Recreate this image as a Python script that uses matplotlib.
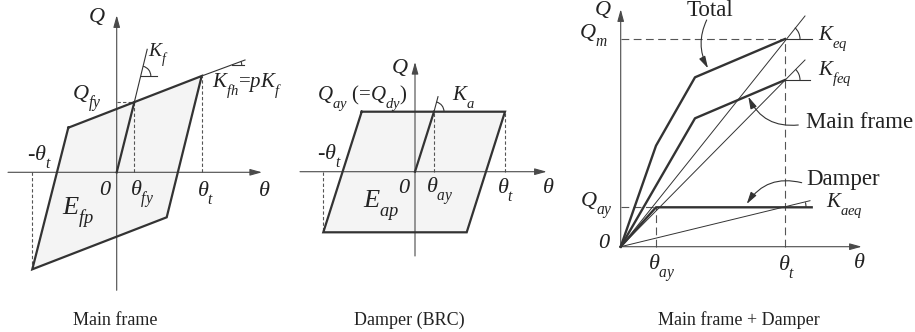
import numpy as np
import matplotlib
matplotlib.use("Agg")
import matplotlib.pyplot as plt
import matplotlib._mathtext as mathtext_impl
from matplotlib.patches import Polygon, Arc, FancyArrowPatch

plt.rcParams['font.family'] = 'Liberation Serif'
plt.rcParams['mathtext.fontset'] = 'custom'
plt.rcParams['mathtext.it'] = 'Liberation Serif:italic'
plt.rcParams['mathtext.rm'] = 'Liberation Serif'
# drop subscripts lower, as in Times-style engineering notation
mathtext_impl.FontConstantsBase.sub1 = 0.8

# ---- main frame hysteresis (theta -> right, Q -> up) ----
mf_loop_theta = [-48.4, 85.0, 50.0, -84.4]
mf_loop_Q = [44.6, 96.3, -45.0, -97.0]
mf_yield = (17.6, 70.0)          # theta_fy, Q_fy
mf_Kf_end = (30.5, 123.0)
mf_Kfh_end = (128.3, 112.3)

# ---- damper (BRC) hysteresis ----
br_loop_theta = [-53.3, 90.0, 51.7, -91.7]
br_loop_Q = [60.0, 60.0, -60.6, -60.6]
br_yield = (19.0, 60.0)          # theta_ay, Q_ay
br_Ka_end = (23.0, 75.0)

# ---- skeleton curves, main frame + damper ----
tot_theta = [0, 35.3, 74.3, 164.3]
tot_Q = [0, 101.0, 169.4, 207.7]
frm_theta = [0, 74.3, 164.3]
frm_Q = [0, 128.4, 166.7]
dmp_theta = [0, 35.3, 191.0]
dmp_Q = [0, 39.4, 39.4]
Keq_end = (184.3, 230.7)
Kfeq_end = (184.3, 186.7)
Kaeq_end = (189.3, 46.0)

captions = ["Main frame", "Damper (BRC)", "Main frame + Damper"]

W, H = 915, 332
fig = plt.figure(figsize=(W / 100, H / 100), dpi=100)

LINE = '#333333'
AXC = '#4a4a4a'
FILL = '#f4f4f4'


def panel(ox, oy):
    ax = fig.add_axes([0, 0, 1, 1])
    ax.set_xlim(-ox, W - ox)
    ax.set_ylim(oy - H, oy)
    ax.axis('off')
    return ax


def arrow_axis(ax, p0, p1):
    ax.add_patch(FancyArrowPatch(p0, p1, arrowstyle='-|>,head_length=0.9,head_width=0.25',
                                 mutation_scale=8, lw=0.8, color=AXC,
                                 shrinkA=0, shrinkB=0, zorder=3))


def angle_mark(ax, c, end, r, hlen):
    ang = np.degrees(np.arctan2(end[1] - c[1], end[0] - c[0]))
    ax.plot([c[0], c[0] + hlen], [c[1], c[1]], color=LINE, lw=0.8, zorder=4)
    ax.add_patch(Arc(c, 2 * r, 2 * r, theta1=0, theta2=ang, color=LINE, lw=0.8, zorder=4))


def label(ax, x, y, s, size=16, ha='left', **kw):
    ax.text(x, y, s, fontsize=size, ha=ha, va='baseline', color='#222222', **kw)


dash_s = dict(color='#555555', lw=0.8, ls=(0, (3, 2)), zorder=2)
dash_l = dict(color='#555555', lw=0.8, ls=(0, (7, 4)), zorder=2)

# ================= Main frame =================
ax1 = panel(116.7, 172.3)
ax1.add_patch(Polygon(list(zip(mf_loop_theta, mf_loop_Q)), closed=True,
                      facecolor=FILL, edgecolor='none', zorder=1))
ax1.plot([0, mf_yield[0]], [mf_yield[1]] * 2, **dash_s)
ax1.plot([mf_yield[0]] * 2, [0, mf_yield[1]], **dash_s)
ax1.plot([mf_loop_theta[1]] * 2, [0, mf_loop_Q[1]], **dash_s)
ax1.plot([mf_loop_theta[3]] * 2, [0, mf_loop_Q[3]], **dash_s)
arrow_axis(ax1, (0, -118), (0, 157))
arrow_axis(ax1, (-108.7, 0), (145.3, 0))
ax1.plot(mf_loop_theta + mf_loop_theta[:1], mf_loop_Q + mf_loop_Q[:1],
         color=LINE, lw=1.6, zorder=3, solid_joinstyle='miter')
ax1.plot([0, mf_yield[0]], [0, mf_yield[1]], color=LINE, lw=1.6, zorder=3)
ax1.plot([mf_yield[0], mf_Kf_end[0]], [mf_yield[1], mf_Kf_end[1]], color=LINE, lw=0.8, zorder=3)
ax1.plot([mf_loop_theta[1], mf_Kfh_end[0]], [mf_loop_Q[1], mf_Kfh_end[1]], color=LINE, lw=0.8, zorder=3)
angle_mark(ax1, (24.1, 96.3), mf_Kf_end, 10, 16)
angle_mark(ax1, (115.0, 107.3), mf_Kfh_end, 10, 12)

label(ax1, -20, 150, '$Q$', ha='center')
label(ax1, 31.6, 115.6, '$K_f$', size=14)
label(ax1, -45, 72, '$Q_{fy}$')
label(ax1, 95, 85.6, '$K_{fh}$=$pK_f$', size=15)
label(ax1, -90, 12.3, '-$\\theta_t$')
label(ax1, -11.7, -22.7, '0', ha='center', style='italic')
label(ax1, 13.3, -24, '$\\theta_{fy}$')
label(ax1, 80, -24, '$\\theta_t$')
label(ax1, 141.6, -24, '$\\theta$')
label(ax1, -55, -42.7, '$E_{fp}$', size=19)

# ================= Damper (BRC) =================
ax2 = panel(415, 171.7)
ax2.add_patch(Polygon(list(zip(br_loop_theta, br_loop_Q)), closed=True,
                      facecolor=FILL, edgecolor='none', zorder=1))
ax2.plot([br_yield[0]] * 2, [0, br_yield[1]], **dash_s)
ax2.plot([br_loop_theta[1]] * 2, [0, br_loop_Q[1]], **dash_s)
ax2.plot([br_loop_theta[3]] * 2, [0, br_loop_Q[3]], **dash_s)
arrow_axis(ax2, (0, -84.3), (0, 109.7))
arrow_axis(ax2, (-115, 0), (131.7, 0))
ax2.plot(br_loop_theta + br_loop_theta[:1], br_loop_Q + br_loop_Q[:1],
         color=LINE, lw=1.6, zorder=3, solid_joinstyle='miter')
ax2.plot([0, br_yield[0]], [0, br_yield[1]], color=LINE, lw=1.6, zorder=3)
ax2.plot([br_yield[0], br_Ka_end[0]], [br_yield[1], br_Ka_end[1]], color=LINE, lw=0.8, zorder=3)
ax2.add_patch(Arc(br_yield, 20, 20, theta1=0,
                  theta2=np.degrees(np.arctan2(br_Ka_end[1] - br_yield[1], br_Ka_end[0] - br_yield[0])),
                  color=LINE, lw=0.8, zorder=4))

label(ax2, -15, 98.7, '$Q$', ha='center')
label(ax2, -98.3, 71.7, '$Q_{ay}$ (=$Q_{dy}$)', size=15)
label(ax2, 36.7, 71.7, '$K_a$', size=15)
label(ax2, -98.3, 12.7, '-$\\theta_t$')
label(ax2, -11.3, -21.3, '0', ha='center', style='italic')
label(ax2, 11, -21.3, '$\\theta_{ay}$')
label(ax2, 82.3, -21.3, '$\\theta_t$')
label(ax2, 126.7, -21.3, '$\\theta$')
label(ax2, -51.7, -36.6, '$E_{ap}$', size=19)

# ================= Main frame + Damper =================
ax3 = panel(620.7, 246.7)
ax3.plot([0, tot_theta[-1]], [tot_Q[-1]] * 2, **dash_l)
ax3.plot([tot_theta[-1]] * 2, [0, tot_Q[-1]], **dash_l)
ax3.plot([0, dmp_theta[1]], [dmp_Q[1]] * 2, **dash_l)
ax3.plot([dmp_theta[1]] * 2, [0, dmp_Q[1]], **dash_l)
arrow_axis(ax3, (0, 0), (0, 237.4))
arrow_axis(ax3, (0, 0), (241, 0))
for end in (Keq_end, Kfeq_end, Kaeq_end):
    ax3.plot([0, end[0]], [0, end[1]], color=LINE, lw=0.7, zorder=3)
ax3.plot(tot_theta, tot_Q, color=LINE, lw=1.7, zorder=4)
ax3.plot(frm_theta, frm_Q, color=LINE, lw=1.7, zorder=4)
ax3.plot(dmp_theta, dmp_Q, color=LINE, lw=1.7, zorder=4)
angle_mark(ax3, (tot_theta[-1], tot_Q[-1]), Keq_end, 15, 26.7)
angle_mark(ax3, (frm_theta[-1], frm_Q[-1]), Kfeq_end, 15, 25)
ax3.add_patch(Arc((tot_theta[-1], dmp_Q[-1]), 42, 42, theta1=0,
                  theta2=np.degrees(np.arctan2(Kaeq_end[1], Kaeq_end[0])),
                  color=LINE, lw=0.8, zorder=4))

for p0, p1, rad in [((86, 226.7), (87.3, 178.4), 0.25),
                    ((177.6, 121.7), (127.6, 150), -0.35),
                    ((181, 64), (126, 42.7), 0.35)]:
    ax3.add_patch(FancyArrowPatch(p0, p1, connectionstyle=f'arc3,rad={rad}',
                                  arrowstyle='-|>,head_length=0.9,head_width=0.25',
                                  mutation_scale=8, lw=0.8, color=LINE,
                                  shrinkA=0, shrinkB=0, zorder=5))

label(ax3, -18.2, 231.5, '$Q$', ha='center')
label(ax3, -42, 208.4, '$Q_m$')
label(ax3, -41, 40, '$Q_{ay}$')
label(ax3, -16.7, -1.6, '0', ha='center', style='italic')
label(ax3, 27.6, -23.3, '$\\theta_{ay}$')
label(ax3, 157.6, -23.3, '$\\theta_t$')
label(ax3, 232.6, -21.6, '$\\theta$')
label(ax3, 197.6, 206.7, '$K_{eq}$', size=15)
label(ax3, 197.6, 171.7, '$K_{feq}$', size=15)
label(ax3, 205.3, 40, '$K_{aeq}$', size=15)
label(ax3, 89.3, 230.5, 'Total', size=16.5, ha='center')
label(ax3, 185.3, 118.4, 'Main frame', size=16.5)
label(ax3, 185.3, 61.7, 'Damper', size=16.5)

for x, s in zip([115.5, 409.7, 739], captions):
    fig.text(x / W, (H - 325) / H, s, fontsize=13, ha='center', va='baseline', color='#222222')

fig.savefig('out.png', dpi=100)
